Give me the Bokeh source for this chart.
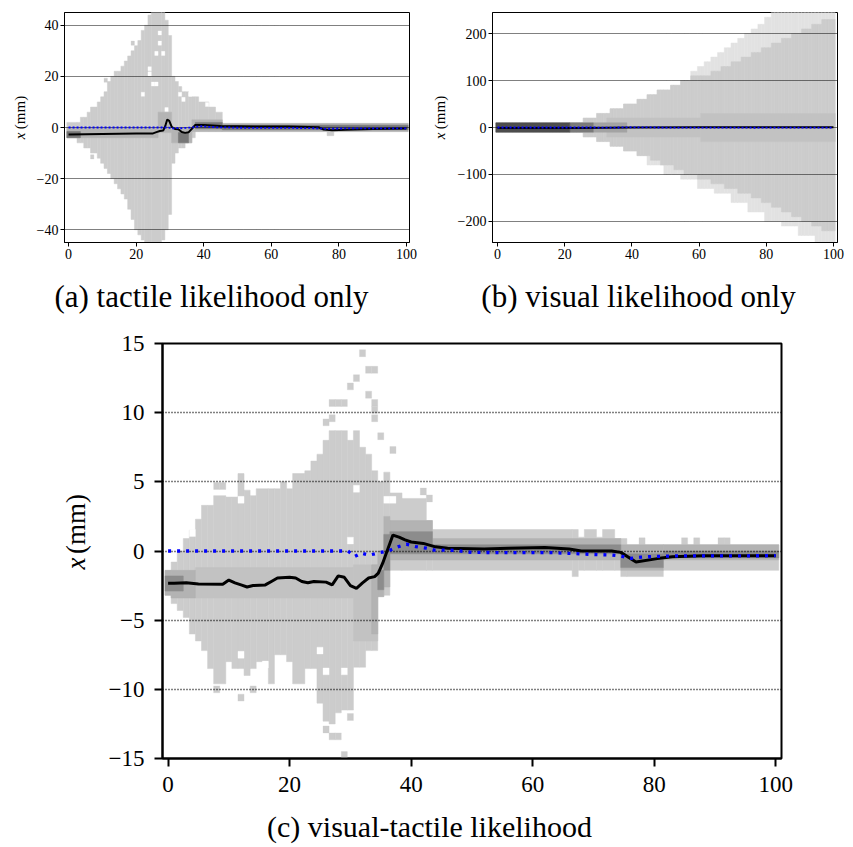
from bokeh.plotting import figure
from bokeh.layouts import column, row
from bokeh.models import FixedTicker, Range1d, ColumnDataSource
from bokeh.core.properties import value
from bokeh.embed import file_html
from bokeh.resources import INLINE

# ---------------- data ----------------
x_ticks = [0, 20, 40, 60, 80, 100]
a_yticks = [-40, -20, 0, 20, 40]
a_ylabels = ["\u221240", "\u221220", "0", "20", "40"]
b_yticks = [-200, -100, 0, 100, 200]
b_ylabels = ["\u2212200", "\u2212100", "0", "100", "200"]
c_yticks = [-15, -10, -5, 0, 5, 10, 15]
c_ylabels = ["\u221215", "\u221210", "\u22125", "0", "5", "10", "15"]

captions = ["(a) tactile likelihood only", "(b) visual likelihood only",
            "(c) visual-tactile likelihood"]
y_var = "x"
y_unit = "(mm)"

# ground truth (blue dotted), knots (step, mm)
gt_t = [0, 29.6, 30.7, 31.8, 33.1, 34.8, 36.2, 37.8, 39.2, 40.8, 42.5, 43.8, 47, 50,
        56, 63, 66, 70, 73, 74.5, 76.2, 77.8, 79.5, 83, 100]
gt_x = [0.0, 0.0, -0.4, -0.15, -0.3, -0.12, 0.0, 0.3, 0.5, 0.32, 0.2, 0.07, 0.05, -0.1,
        -0.12, -0.12, -0.17, -0.25, -0.29, -0.36, -0.53, -0.45, -0.4, -0.36, -0.34]

# estimated mean (black)
a_mean_t = [0, 10, 20, 25, 26, 27, 28, 28.6, 29.2, 29.8, 30.5, 31.5, 32.5, 33.5, 34.5,
            35.5, 36.5, 37.5, 40, 45, 55, 65, 74, 75.5, 78, 82, 90, 100]
a_mean_x = [-2.7, -2.5, -2.3, -2.3, -1.8, -1.4, -1.2, 0.5, 3.1, 2.6, 0.3, -0.6, -0.7, -1.8,
            -2.1, -1.9, -0.5, 1.0, 1.0, 0.6, 0.4, 0.4, 0.1, -0.8, -1.1, -0.9, -0.6, -0.4]
b_mean_t = [0, 25, 40, 60, 80, 100]
b_mean_x = [-1.0, -1.0, 0.0, 0.5, 0.5, 0.3]
c_mean_t = [0, 1, 3, 5, 9, 10, 11, 12, 13, 14, 16, 17, 18, 20, 21, 22, 23, 24, 26, 27,
            28, 29, 30, 31, 32, 33, 34, 34.6, 35.3, 37, 38, 39, 40, 42, 44, 46, 52, 56,
            62, 66, 68, 73, 74.5, 77, 80.5, 83, 88, 100]
c_mean_x = [-2.34, -2.34, -2.3, -2.38, -2.4, -2.1, -2.3, -2.45, -2.6, -2.5, -2.45, -2.2,
            -1.95, -1.9, -1.95, -2.2, -2.3, -2.2, -2.25, -2.45, -1.8, -1.9, -2.5, -2.7,
            -2.3, -1.95, -1.85, -1.6, -0.9, 1.15, 1.0, 0.8, 0.65, 0.55, 0.3, 0.2, 0.15,
            0.2, 0.25, 0.15, 0.0, 0.0, -0.1, -0.8, -0.55, -0.42, -0.35, -0.35]

# particle histograms: runs of (first step, last step, bottom mm, top mm)
a_body = [(0, 2, -4, 2), (3, 3, -6, 2), (4, 4, -6, 4), (5, 5, -8, 4), (6, 6, -8, 6),
          (7, 8, -10, 8), (9, 9, -12, 10), (10, 10, -14, 12), (11, 11, -16, 14),
          (12, 12, -18, 18), (13, 13, -20, 20), (14, 14, -22, 22), (15, 15, -24, 22),
          (16, 16, -26, 24), (17, 17, -28, 26), (18, 18, -32, 28), (19, 19, -36, 30),
          (20, 20, -40, 32), (21, 21, -42, 34), (22, 22, -44, 38), (23, 23, -46, 40),
          (24, 24, -46, 44), (25, 27, -46, 46), (28, 28, -44, 46), (29, 29, -40, 42),
          (30, 30, -34, 36), (31, 31, -14, 20), (32, 32, -10, 18), (33, 33, -8, 16),
          (34, 34, -8, 14), (35, 35, -6, 14), (36, 36, -6, 12), (37, 37, -4, 12),
          (38, 38, -1.6, 12), (39, 41, -1.6, 10), (42, 43, -1.6, 8), (44, 45, -1.6, 6),
          (46, 76, -1.6, 1.6), (77, 78, -3.2, 1.6), (79, 100, -1.6, 1.6)]
a_mid = [(0, 26, -4, 0), (27, 30, -2, 6), (31, 36, -6, 0), (37, 45, -1.6, 3),
         (46, 100, -1.6, 1.6)]
a_core = [(0, 3, -4, -1.6), (33, 35, -6, -2), (38, 45, -0.5, 2), (46, 100, -0.9, 0.9)]
a_holes = [(22, 13), (24, 23), (24, 21), (25, 17), (26, 17), (26, 29), (27, 37), (27, 33),
           (28, 29), (29, 7), (33, 13), (34, 11), (36, 13), (41, 9)]
a_extra = [(7, -11.5), (11, 18.5), (19, 33)]

# (b): run lists of (first step, last step, value)
b_body_top = [(0, 25, 10), (26, 29, 20), (30, 33, 30), (34, 37, 40), (38, 41, 50),
              (42, 44, 60), (45, 47, 70), (48, 51, 80), (52, 54, 90), (55, 57, 100),
              (58, 63, 110), (64, 66, 120), (67, 69, 130), (70, 72, 140), (73, 75, 150),
              (76, 78, 160), (79, 81, 170), (82, 84, 180), (85, 87, 190), (88, 90, 200),
              (91, 93, 210), (94, 96, 220), (97, 100, 230)]
b_body_bot = [(0, 25, -10), (26, 29, -20), (30, 33, -30), (34, 37, -40), (38, 41, -50),
              (42, 45, -60), (46, 48, -70), (49, 52, -80), (53, 55, -90), (56, 59, -100),
              (60, 63, -110), (64, 67, -120), (68, 71, -130), (72, 75, -140),
              (76, 78, -150), (79, 81, -160), (82, 84, -170), (85, 87, -180),
              (88, 90, -190), (91, 93, -200), (94, 96, -210), (97, 100, -220)]
b_fringe_top = [(58, 59, 120), (60, 61, 130), (62, 63, 140), (64, 65, 150), (66, 67, 160),
                (68, 69, 170), (70, 71, 180), (72, 73, 190), (74, 75, 200), (76, 77, 210),
                (78, 79, 220), (80, 81, 235), (82, 100, 250)]
b_fringe_bot = [(45, 49, -80), (50, 54, -100), (55, 59, -110), (60, 64, -130),
                (65, 69, -140), (70, 74, -160), (75, 79, -180), (80, 84, -200),
                (85, 89, -210), (90, 94, -230), (95, 100, -250)]
b_faint = [(33, 60, -20, 20), (61, 100, -30, 30)]
b_mid = [(29, 38, -10, 10)]
b_core = [(22, 28, -10, 10)]
b_dark = [(0, 21, -10, 10)]

c_body = [(0, 0, -3.2, -1.4), (1, 1, -3.8, -0.8), (2, 2, -4.3, 0.0), (3, 3, -4.8, 0.9),
          (4, 4, -6.0, 1.5), (5, 5, -6.5, 2.3), (6, 6, -7.2, 3.3), (7, 7, -8.5, 3.3),
          (8, 9, -9.6, 4.0), (10, 10, -8.0, 3.9), (11, 11, -8.5, 3.9), (12, 12, -8.5, 5.6),
          (13, 13, -9.0, 4.4), (14, 14, -8.5, 4.0), (15, 16, -8.0, 4.5), (17, 17, -9.6, 4.5),
          (18, 18, -7.5, 4.5), (19, 19, -7.5, 5.0), (20, 20, -8.0, 4.5), (21, 22, -9.6, 5.6),
          (23, 23, -8.5, 5.8), (24, 24, -8.5, 6.5), (25, 25, -11.0, 7.0),
          (26, 26, -12.3, 8.0), (27, 27, -12.5, 8.7), (28, 28, -11.7, 8.7),
          (29, 29, -11.5, 8.7), (30, 30, -11.5, 8.0), (31, 31, -8.4, 8.7),
          (32, 32, -8.4, 7.5), (33, 33, -7.2, 7.0), (34, 34, -7.2, 5.8), (35, 35, -3.3, 5.0),
          (36, 36, -3.2, 5.7), (37, 38, -1.4, 4.2), (39, 42, -1.4, 3.8), (43, 43, -1.4, 2.2),
          (44, 66, -1.4, 1.55), (67, 67, -1.85, 1.55), (68, 68, -1.4, 1.0),
          (69, 70, -1.4, 1.55), (71, 71, -1.4, 1.0), (72, 73, -1.4, 1.55),
          (74, 74, -1.4, 0.9), (75, 75, -1.85, 0.9), (76, 81, -1.85, 0.45),
          (82, 100, -1.4, 0.45)]
c_soft = [(5, 30, -3.4, -1.2), (31, 34, -6.5, -1.0)]
c_mid = [(0, 0, -3.2, -1.4), (1, 4, -3.4, -1.4), (34, 34, -6.0, -1.0),
         (35, 35, -3.3, 0.0), (36, 36, -2.6, 2.5), (37, 43, -0.65, 2.2), (44, 74, -0.65, 0.9),
         (75, 81, -1.4, 0.45), (82, 100, -0.65, 0.45)]
c_core = [(0, 2, -2.9, -1.8), (35, 35, -2.8, -1.4), (36, 36, -1.4, 1.2), (37, 43, -0.2, 1.4),
          (44, 74, -0.2, 0.45), (75, 81, -1.2, -0.2), (82, 100, -0.5, 0.0)]
c_holes = [(4, 1.3), (12, 3.7), (12, -7.5), (16, -8.2), (25, -7.2), (26, -8.7), (29, -8.7),
           (30, 0.75), (31, 4.5), (36, 3.7), (37, 3.7)]
c_extra = [(8, 4.7), (9, 4.7), (26, 9.3), (27, 9.6), (27, 10.7), (28, 10.7), (29, 10.7),
           (30, 11.9), (31, 12.5), (32, 14.3), (33, 11.3), (33, 13.1), (34, 13.1),
           (34, 10.7), (34, 10.2), (34, 9.6), (35, 8.3), (37, 7.3), (42, 4.3), (43, 3.8),
           (78, 0.7), (85, 0.7), (87, 0.7), (91, 0.7), (92, 0.7), (8, -10.0), (12, -10.6),
           (14, -10.0), (26, -12.9), (27, -13.4), (28, -13.4), (29, -14.75), (30, -12.0)]

# ---------------- helpers ----------------
FONT = "Liberation Serif"
BODY = "#cccccc"


def per_step(runs, fallback):
    vals = list(fallback)
    for a, b, v in runs:
        for t in range(a, b + 1):
            vals[t] = v
    return vals


def quads_from_runs(p, runs, color):
    src = ColumnDataSource(dict(left=[r[0] - 0.5 for r in runs],
                                right=[r[1] + 0.5 for r in runs],
                                bottom=[r[2] for r in runs],
                                top=[r[3] for r in runs]))
    p.quad(left="left", right="right", bottom="bottom", top="top", source=src,
           fill_color=color, line_color=color, line_width=0.5, level="image")


def cells(p, pts, h, color):
    src = ColumnDataSource(dict(left=[q[0] - 0.5 for q in pts],
                                right=[q[0] + 0.5 for q in pts],
                                bottom=[q[1] - h / 2 for q in pts],
                                top=[q[1] + h / 2 for q in pts]))
    p.quad(left="left", right="right", bottom="bottom", top="top", source=src,
           fill_color=color, line_color=color, line_width=0.3, level="image")


def make_fig(w, h, ml, mr, mt, mb, xr, yr, yticks, ylabels, tick_font, tick_len, lw,
             grid_w, grid_dash, x_standoff, y_standoff):
    p = figure(width=w, height=h, x_range=Range1d(*xr), y_range=Range1d(*yr),
               output_backend="svg", toolbar_location=None,
               min_border_left=ml, min_border_right=mr, min_border_top=mt,
               min_border_bottom=mb)
    p.background_fill_color = "white"
    p.border_fill_color = "white"
    p.outline_line_color = "black"
    p.outline_line_width = lw
    p.outline_line_alpha = 1.0
    p.xaxis.ticker = FixedTicker(ticks=x_ticks)
    p.yaxis.ticker = FixedTicker(ticks=yticks)
    p.yaxis.major_label_overrides = {t: s for t, s in zip(yticks, ylabels)}
    for ax in (p.xaxis[0], p.yaxis[0]):
        ax.major_label_text_font = FONT
        ax.major_label_text_font_size = tick_font
        ax.major_label_text_color = "black"
        ax.major_tick_in = 0
        ax.major_tick_out = tick_len
        ax.major_tick_line_width = lw
        ax.major_tick_line_color = "black"
        ax.minor_tick_line_color = None
        ax.axis_line_color = "black"
        ax.axis_line_width = lw
    p.xaxis.major_label_standoff = x_standoff
    p.yaxis.major_label_standoff = y_standoff
    p.xgrid.visible = False
    p.ygrid.ticker = FixedTicker(ticks=yticks)
    p.ygrid.grid_line_color = "black"
    p.ygrid.grid_line_width = grid_w
    p.ygrid.grid_line_dash = grid_dash
    return p


def text_panel(w, h):
    # a blank strip whose coordinates are its own pixels (y grows downward)
    p = figure(width=w, height=h, x_range=Range1d(0, w), y_range=Range1d(h, 0),
               output_backend="svg", toolbar_location=None, x_axis_location=None,
               y_axis_location=None, min_border=0)
    p.grid.visible = False
    p.outline_line_color = None
    p.background_fill_color = "white"
    p.border_fill_color = "white"
    return p


def y_title(w, h, sx, sy_split, size):
    p = text_panel(w, h)
    p.text(x=[sx], y=[sy_split + 2], text=[y_var], angle=1.5707963,
           text_font=value(FONT), text_font_size=value(size), text_font_style="italic",
           text_align="right", text_baseline="middle", text_color="black")
    p.text(x=[sx], y=[sy_split - 2], text=[y_unit], angle=1.5707963,
           text_font=value(FONT), text_font_size=value(size), text_font_style="normal",
           text_align="left", text_baseline="middle", text_color="black")
    return p


def caption_strip(w, h, xs, base, texts, size):
    p = text_panel(w, h)
    p.text(x=xs, y=[base] * len(xs), text=texts, text_font=value(FONT),
           text_font_size=value(size), text_align="center", text_baseline="alphabetic",
           text_color="black")
    return p


# ---------------- (a) ----------------
pa = make_fig(390, 270, 34, 11, 12, 28, (-1.2, 100.9), (-45, 45), a_yticks, a_ylabels,
              "14px", 4, 1, 1.0, "1 1", 2, 2)
quads_from_runs(pa, a_body, BODY)
cells(pa, a_extra, 1.6, BODY)
cells(pa, a_holes, 1.6, "white")
quads_from_runs(pa, a_mid, "#b4b4b4")
quads_from_runs(pa, a_core, "#777777")
pa.line(a_mean_t, a_mean_x, line_color="black", line_width=2)
pa.line(gt_t, gt_x, line_color="#0000ff", line_width=1.8, line_dash="2 2")
la = y_title(30, 270, 19.5, 139, "15px")

# ---------------- (b) ----------------
pb = make_fig(403, 270, 42, 16, 12, 28, (-1.5, 101.2), (-245, 245), b_yticks, b_ylabels,
              "14px", 4, 1, 1.0, "1 1", 2, 2)
n = 101
b_top = per_step(b_body_top, [0] * n)
b_bot = per_step(b_body_bot, [0] * n)
b_ftop = per_step(b_fringe_top, b_top)
b_fbot = per_step(b_fringe_bot, b_bot)
steps = list(range(n))
pb.quad(left=[t - 0.5 for t in steps], right=[t + 0.5 for t in steps], bottom=b_fbot,
        top=b_ftop, fill_color="#e2e2e2", line_color="#e2e2e2", line_width=0.5,
        level="image")
pb.quad(left=[t - 0.5 for t in steps], right=[t + 0.5 for t in steps], bottom=b_bot,
        top=b_top, fill_color=BODY, line_color=BODY, line_width=0.5, level="image")
quads_from_runs(pb, b_faint, "#c2c2c2")
quads_from_runs(pb, b_mid, "#a3a3a3")
quads_from_runs(pb, b_core, "#7a7a7a")
quads_from_runs(pb, b_dark, "#4d4d4d")
pb.line(b_mean_t, b_mean_x, line_color="black", line_width=2)
pb.line(gt_t, gt_x, line_color="#0000ff", line_width=1.8, line_dash="2 2")
lb = y_title(30, 270, 19.5, 139, "15px")

cap_ab = caption_strip(853, 60, [211, 638], 26, captions[:2], "31px")

# ---------------- (c) ----------------
pc = make_fig(753, 477, 62, 72, 13, 49, (-0.92, 100.95), (-15, 15), c_yticks, c_ylabels,
              "23px", 8, 2, 1.3, "1 2", 10, 10)
quads_from_runs(pc, c_body, BODY)
cells(pc, c_extra, 0.5, BODY)
cells(pc, c_holes, 0.5, "white")
quads_from_runs(pc, c_soft, "#c2c2c2")
quads_from_runs(pc, c_mid, "#b3b3b3")
quads_from_runs(pc, c_core, "#8c8c8c")
pc.line(c_mean_t, c_mean_x, line_color="black", line_width=3)
pc.line(gt_t, gt_x, line_color="#0000ff", line_width=3.3, line_dash="3 6")
lc = y_title(100, 477, 75, 244, "27px")

cap_c = caption_strip(853, 40, [429], 19, captions[2:], "30px")

layout = column(row(la, pa, lb, pb), cap_ab, row(lc, pc), cap_c)
open("out.html", "w").write(file_html(layout, INLINE))
